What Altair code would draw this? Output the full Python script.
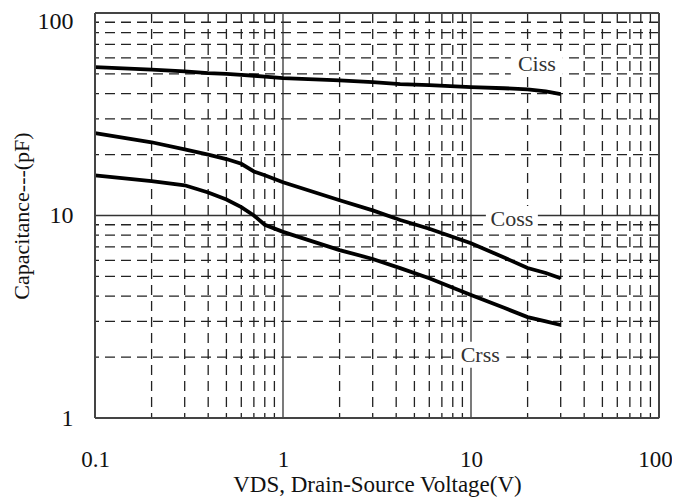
import altair as alt
import pandas as pd

# Data
vds = [0.1, 0.2, 0.3, 0.4, 0.5, 0.6, 0.7, 0.8, 1.0, 2.0, 3.0, 4.2, 6.0, 10.0, 15.0, 20.0, 25.0, 30.0]
ciss = [54.0, 52.5, 51.5, 50.5, 50.0, 49.5, 49.0, 48.5, 47.7, 46.5, 45.6, 44.5, 44.0, 43.0, 42.5, 42.0, 41.0, 39.8]
coss = [25.5, 23.0, 21.2, 20.0, 19.0, 18.0, 16.5, 15.8, 14.6, 11.9, 10.6, 9.5, 8.6, 7.3, 6.2, 5.5, 5.2, 4.9]
crss = [15.8, 14.8, 14.1, 13.0, 12.0, 11.0, 10.0, 9.0, 8.3, 6.75, 6.1, 5.5, 4.9, 4.05, 3.5, 3.15, 3.0, 2.88]

label_text = ["Ciss", "Coss", "Crss"]
label_x = [22.4, 16.5, 11.2]
label_y = [56.0, 9.6, 2.05]

x_ticks = [0.1, 1, 10, 100]
y_ticks = [1, 10, 100]
x_minor = [m * d for d in [0.1, 1, 10] for m in range(2, 10)]
y_minor = [m * d for d in [1, 10] for m in range(2, 10)]
x_major = [1, 10]
y_major = [10]
x_edges = [0.1, 100]
y_edges = [1, 100]

rows = []
for name, vals in [("Ciss", ciss), ("Coss", coss), ("Crss", crss)]:
    for v, c in zip(vds, vals):
        rows.append({"series": name, "vds": v, "cap": c})
df = pd.DataFrame(rows)

SERIF = "Liberation Serif"
xscale = alt.Scale(type="log", domain=[0.1, 100], nice=False)
yscale = alt.Scale(type="log", domain=[1, 100], nice=False)

xaxis = alt.Axis(values=x_ticks, format="~g", grid=False, ticks=False, domain=False,
                 labelFont=SERIF, labelFontSize=23, labelColor="#111", labelPadding=30,
                 labelOffset={"expr": "datum.value == 100 ? -4 : 0"},
                 labelFlush=False, title="VDS, Drain-Source Voltage(V)", titleFont=SERIF,
                 titleFontSize=23, titleFontWeight="normal", titleColor="#111", titlePadding=2)
yaxis = alt.Axis(values=y_ticks, format="~g", grid=False, ticks=False, domain=False,
                 labelFont=SERIF, labelFontSize=24, labelColor="#111", labelPadding=22,
                 labelOffset={"expr": "datum.value == 100 ? 8 : 0"},
                 labelFlush=False, title="Capacitance---(pF)", titleFont=SERIF,
                 titleFontSize=22, titleFontWeight="normal", titleColor="#111", titlePadding=4)


def X(field):
    return alt.X(field, type="quantitative", scale=xscale, axis=xaxis)


def Y(field):
    return alt.Y(field, type="quantitative", scale=yscale, axis=yaxis)


base_lines = alt.Chart(df).mark_line(color="black", strokeWidth=3.8).encode(
    x=X("vds"), y=Y("cap"), detail="series:N")

vminor = alt.Chart(pd.DataFrame({"v": x_minor})).mark_rule(
    color="#222", strokeWidth=1.3, strokeDash=[10, 6]).encode(x=X("v"))
hminor = alt.Chart(pd.DataFrame({"v": y_minor})).mark_rule(
    color="#222", strokeWidth=1.3, strokeDash=[10, 6]).encode(y=Y("v"))
vmajor = alt.Chart(pd.DataFrame({"v": x_major})).mark_rule(
    color="#333", strokeWidth=1.3).encode(x=X("v"))
hmajor = alt.Chart(pd.DataFrame({"v": y_major})).mark_rule(
    color="#333", strokeWidth=1.3).encode(y=Y("v"))
vedge = alt.Chart(pd.DataFrame({"v": x_edges})).mark_rule(
    color="#444", strokeWidth=2).encode(x=X("v"))
hedge = alt.Chart(pd.DataFrame({"v": y_edges})).mark_rule(
    color="#444", strokeWidth=2).encode(y=Y("v"))

lab = pd.DataFrame({"t": label_text, "x": label_x, "y": label_y})
lab_bg = alt.Chart(lab).mark_rect(color="white", width=52, height=26).encode(
    x=X("x"), y=Y("y"))
labels = alt.Chart(lab).mark_text(font=SERIF, fontSize=22, color="#333", align="center",
                                  baseline="middle").encode(x=X("x"), y=Y("y"), text="t:N")

chart = alt.layer(vminor, hminor, vmajor, hmajor, lab_bg, labels, base_lines, vedge, hedge).properties(
    width=564, height=405, autosize="none",
    padding={"left": 87, "top": 5, "right": 13, "bottom": 80},
).configure_view(strokeWidth=0).configure(background="white")

chart.save("out.html", embed_options={"renderer": "svg", "actions": False})
